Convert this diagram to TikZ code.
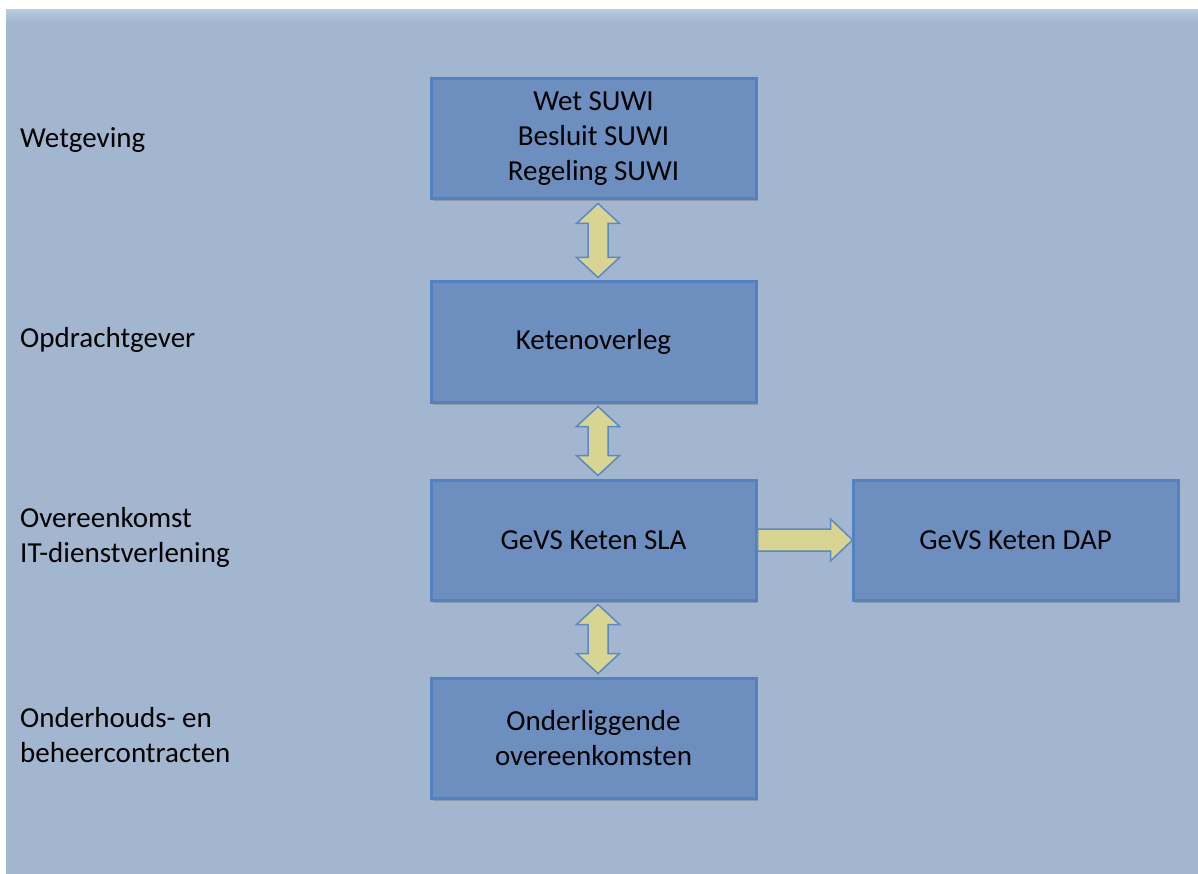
\documentclass[tikz,border=0pt]{standalone}
\usepackage{fontspec}
\setmainfont{Carlito}
\usetikzlibrary{calc,shadows}
\definecolor{bgblue}{RGB}{163,182,207}
\definecolor{bgtop}{RGB}{184,203,226}
\definecolor{boxfill}{RGB}{108,143,191}
\definecolor{boxline}{RGB}{84,130,192}
\definecolor{arrfill}{RGB}{215,213,145}
\definecolor{arrline}{RGB}{92,136,196}
\tikzset{
  box/.style={draw=boxline, line width=3pt, fill=boxfill, minimum width=325pt, minimum height=120pt,
    inner sep=0pt, align=center, font=\fontsize{29}{35}\selectfont, text=black,
    drop shadow={shadow xshift=1.5pt, shadow yshift=-2.5pt, opacity=0.35, fill=black!60}},
  lbl/.style={anchor=west, align=left, inner sep=0pt, font=\fontsize{29}{35}\selectfont, text=black},
  arr/.style={draw=arrline, line width=1.5pt, fill=arrfill, line join=miter}
}
\newcommand{\vdarrow}[2]{%
  \path[arr] let \p1=(#1.south), \p2=(#2.north), \n1={\x1+4.5pt}, \n2={\y1-3pt}, \n3={\y2+3pt} in
    (\n1,\n2) -- (\n1+21.5pt,\n2-20pt) -- (\n1+10pt,\n2-20pt) -- (\n1+10pt,\n3+20pt)
    -- (\n1+21.5pt,\n3+20pt) -- (\n1,\n3) -- (\n1-21.5pt,\n3+20pt) -- (\n1-10pt,\n3+20pt)
    -- (\n1-10pt,\n2-20pt) -- (\n1-21.5pt,\n2-20pt) -- cycle;}
\begin{document}
\begin{tikzpicture}[x=1pt,y=-1pt]
\useasboundingbox (0,0) rectangle (1198,874);
\fill[white] (0,0) rectangle (1198,874);
\fill[bgblue] (6,10) rectangle (1198,874);
\shade[top color=bgtop, bottom color=bgblue] (6,10) rectangle (1198,22);
% boxes
\node[box] (b1) at (593.5,139) {Wet SUWI\\Besluit SUWI\\Regeling SUWI};
\node[box] (b2) at (593.5,342) {Ketenoverleg};
\node[box] (b3) at (593.5,540) {GeVS Keten SLA};
\node[box] (b4) at (1015.5,540) {GeVS Keten DAP};
\node[box] (b5) at (593.5,738) {Onderliggende\\overeenkomsten};
% labels
\node[lbl] (l1) at (20,140) {Wetgeving};
\node[lbl] (l2) at (20,340) {Opdrachtgever};
\node[lbl] (l3) at (20,537) {Overeenkomst\\IT-dienstverlening};
\node[lbl] (l4) at (20,735) {Onderhouds- en\\beheercontracten};
% arrows
\vdarrow{b1}{b2}
\vdarrow{b2}{b3}
\vdarrow{b3}{b5}
\path[arr] let \p1=(b3.east), \p2=(b4.west) in
  (\x1,\y1+11pt) -- (\x2-21pt,\y1+11pt) -- (\x2-21pt,\y1+21pt) -- (\x2+1pt,\y1)
  -- (\x2-21pt,\y1-21pt) -- (\x2-21pt,\y1-11pt) -- (\x1,\y1-11pt) -- cycle;
\end{tikzpicture}
\end{document}
